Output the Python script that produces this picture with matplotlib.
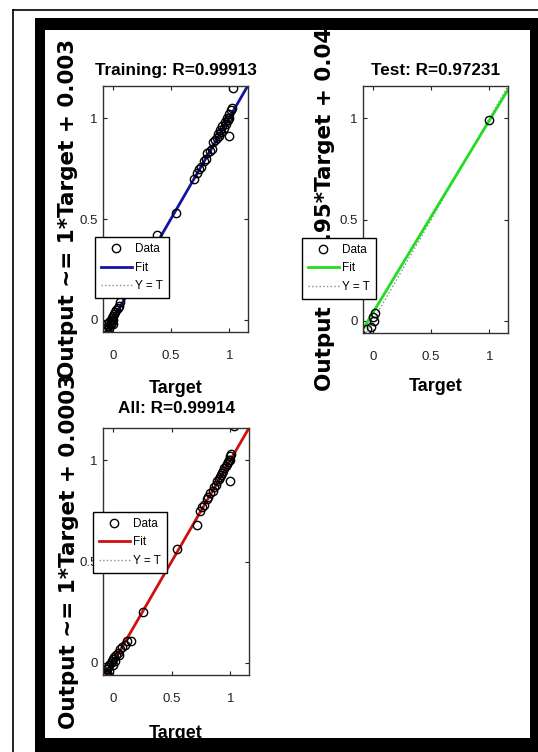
import matplotlib
matplotlib.use("Agg")
from matplotlib import pyplot as plt
from matplotlib.patches import Rectangle
from matplotlib.lines import Line2D


# Training set (target, output)
train_target = [-0.07, -0.06, -0.05, -0.05, -0.04, -0.03, -0.03, -0.02, -0.02, -0.01,
                 0.00, 0.00, 0.01, 0.02, 0.03, 0.04, 0.05, 0.06, -0.01, 0.00,
                 0.38, 0.54,
                 0.70, 0.72, 0.74, 0.76, 0.78, 0.80, 0.81, 0.83, 0.85, 0.86,
                 0.88, 0.89, 0.90, 0.91, 0.92, 0.93, 0.94, 0.95, 0.96, 0.97,
                 0.98, 0.99, 1.00, 1.00, 1.01, 1.02,
                 1.00, 1.03]
train_output = [-0.05, -0.04, -0.05, -0.02, -0.03, -0.01, -0.04, 0.00, -0.02, 0.01,
                 0.00, 0.02, 0.03, 0.04, 0.05, 0.06, 0.07, 0.09, -0.01, -0.02,
                 0.42, 0.53,
                 0.70, 0.73, 0.75, 0.76, 0.79, 0.80, 0.83, 0.84, 0.85, 0.88,
                 0.89, 0.90, 0.92, 0.91, 0.94, 0.93, 0.96, 0.95, 0.98, 0.97,
                 1.00, 0.99, 1.02, 1.00, 1.04, 1.05,
                 0.91, 1.15]
train_fit = (1.0, 0.003)

# Test set
test_target = [1.00, 0.00, -0.02, 0.02, 0.01, -0.05]
test_output = [0.99, 0.02, -0.03, 0.04, 0.00, -0.04]
test_fit = (0.95, 0.04)

# All data
all_target = [-0.08, -0.07, -0.06, -0.05, -0.05, -0.04, -0.03, -0.03, -0.02, -0.01,
               0.00, 0.00, 0.01, 0.02, 0.03, 0.04, 0.05, 0.06, 0.08, 0.10,
               0.12, 0.15, 0.26, 0.55,
               0.72, 0.74, 0.76, 0.78, 0.80, 0.81, 0.83, 0.85, 0.86, 0.88,
               0.89, 0.90, 0.91, 0.92, 0.93, 0.94, 0.95, 0.96, 0.97, 0.98,
               0.99, 1.00, 1.00, 1.01,
               1.00, 1.03]
all_output = [-0.07, -0.05, -0.06, -0.03, -0.05, -0.02, -0.01, -0.04, 0.00, 0.01,
               0.02, -0.01, 0.03, 0.01, 0.04, 0.05, 0.04, 0.07, 0.08, 0.09,
               0.11, 0.11, 0.25, 0.56,
               0.68, 0.75, 0.77, 0.78, 0.81, 0.82, 0.84, 0.85, 0.87, 0.88,
               0.90, 0.91, 0.92, 0.93, 0.94, 0.95, 0.96, 0.97, 0.98, 0.99,
               1.00, 1.02, 1.00, 1.03,
               0.90, 1.17]
all_fit = (1.0, 0.0003)

titles = ["Training: R=0.99913", "Test: R=0.97231", "All: R=0.99914"]
ylabels = ["Output ~= 1*Target + 0.003", "Output ~= 0.95*Target + 0.04",
           "Output ~= 1*Target + 0.0003"]
fit_colors = ["#1414a0", "#22dd22", "#d01010"]
tick_values = [0, 0.5, 1]
tick_labels = ["0", "0.5", "1"]

NARROW = ["Liberation Sans", "DejaVu Sans"]
W, H = 538, 752


def px_box(x0, y0, x1, y1):
    # pixel box (top-left origin) -> figure fraction rect
    return [x0 / W, 1 - y1 / H, (x1 - x0) / W, (y1 - y0) / H]


def make_panel(ax, target, output, fit, color, title, ylabel, ylab_x, xlab_y, title_pad, leg_anchor):
    xlim = (-0.085, 1.16)
    ylim = (-0.06, 1.16)
    ax.set_xlim(*xlim)
    ax.set_ylim(*ylim)

    yt, = ax.plot(xlim, xlim, ls=":", color="#8a8a8a", lw=1.0, label="Y = T")
    slope, icpt = fit
    fl, = ax.plot(xlim, [slope * x + icpt for x in xlim], color=color, lw=2.0, label="Fit")
    dt, = ax.plot(target, output, ls="none", marker="o", ms=6, mfc="none", mec="black",
                  mew=1.0, label="Data")

    ax.set_xticks(tick_values)
    ax.set_xticklabels(tick_labels)
    ax.set_yticks(tick_values)
    ax.set_yticklabels(tick_labels)
    ax.tick_params(direction="in", length=3, width=0.8, top=True, right=True,
                   labelsize=9.5, colors="#222222")
    ax.tick_params(axis="x", pad=13)
    ax.tick_params(axis="y", pad=4)
    for lab in ax.get_xticklabels() + ax.get_yticklabels():
        lab.set_family(NARROW)
    for sp in ax.spines.values():
        sp.set_linewidth(1.0)
        sp.set_color("#333333")

    ax.set_title(title, family=NARROW, fontweight="bold", fontsize=12.3, pad=title_pad)
    ax.set_xlabel("Target", family=NARROW, fontweight="bold", fontsize=13, va="top")
    ax.xaxis.set_label_coords(0.5, xlab_y)
    ax.set_ylabel(ylabel, family="DejaVu Sans", fontweight="bold", fontsize=15.5, va="center")
    ax.yaxis.set_label_coords(ylab_x, 0.5)

    leg = ax.legend(handles=[dt, fl, yt], loc="upper left", bbox_to_anchor=leg_anchor,
                    prop={"family": NARROW, "size": 8.5}, fancybox=False, framealpha=1,
                    edgecolor="black", handlelength=2.6, handletextpad=0.3,
                    labelspacing=0.55, borderpad=0.5, borderaxespad=0)
    leg.get_frame().set_linewidth(1.0)
    leg.set_zorder(5)


fig = plt.figure(figsize=(W / 100, H / 100), dpi=100)
fig.patch.set_facecolor("white")

ax_train = fig.add_axes(px_box(103, 86, 248, 332))
ax_test = fig.add_axes(px_box(363, 86, 508, 333))
ax_all = fig.add_axes(px_box(103, 428, 249, 675))

make_panel(ax_train, train_target, train_output, train_fit, fit_colors[0], titles[0], ylabels[0],
           ylab_x=-0.24, xlab_y=-0.195, title_pad=8, leg_anchor=(-0.055, 0.385))
make_panel(ax_test, test_target, test_output, test_fit, fit_colors[1], titles[1], ylabels[1],
           ylab_x=-0.262, xlab_y=-0.182, title_pad=8, leg_anchor=(-0.42, 0.385))
make_panel(ax_all, all_target, all_output, all_fit, fit_colors[2], titles[2], ylabels[2],
           ylab_x=-0.233, xlab_y=-0.202, title_pad=11, leg_anchor=(-0.068, 0.66))

# thick black frame around the plots (drawn over overflowing labels)
for box in [(35, 18, 538, 30), (35, 18, 45, 752), (530, 18, 538, 752), (35, 738, 538, 752)]:
    x, y, w, h = px_box(*box)
    fig.add_artist(Rectangle((x, y), w, h, transform=fig.transFigure, color="black",
                             lw=0, zorder=20))

# thin outer border line
fig.add_artist(Line2D([13 / W, 13 / W], [0, 1 - 10 / H], transform=fig.transFigure,
                      color="black", lw=1.2, zorder=20))
fig.add_artist(Line2D([13 / W, 1], [1 - 10 / H, 1 - 10 / H], transform=fig.transFigure,
                      color="black", lw=1.2, zorder=20))

plt.savefig("out.png", dpi=100)
plt.close(fig)
